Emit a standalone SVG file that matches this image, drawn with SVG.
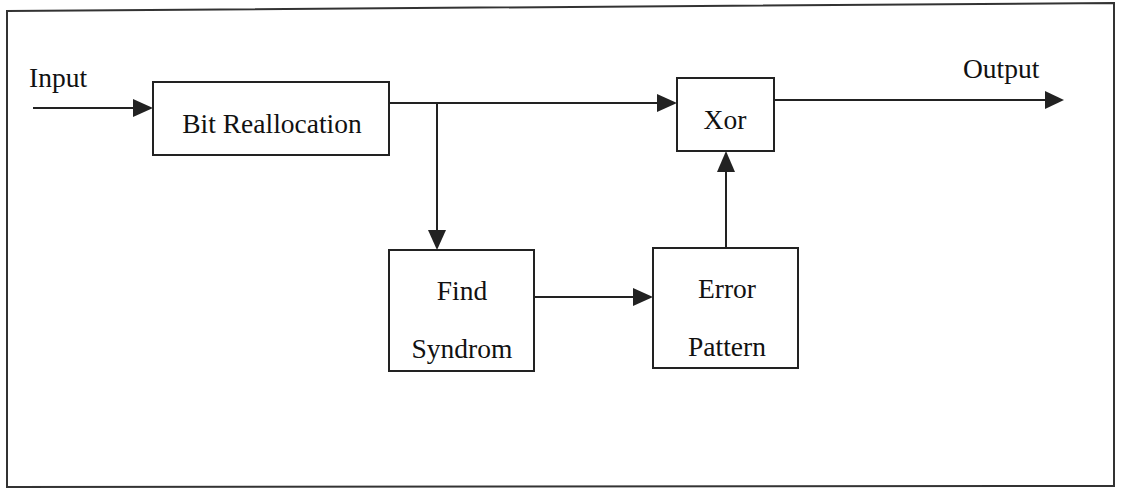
<svg xmlns="http://www.w3.org/2000/svg" width="1121" height="492" viewBox="0 0 1121 492">
<style>
.box{fill:#fff;stroke:#222;stroke-width:2}
.ln{fill:none;stroke:#222;stroke-width:2}
.ah{fill:#222;stroke:none}
text{font-family:"Liberation Serif","Times New Roman",serif;font-size:27.5px;fill:#111}
.c{text-anchor:middle}
</style>
<rect width="1121" height="492" fill="#fff"/>
<path d="M7,11 L1114,3 L1114,486 L7,487 Z" fill="none" stroke="#333" stroke-width="2"/>
<g id="connectors">
<line class="ln" x1="33" y1="108" x2="140" y2="108"/>
<polygon class="ah" points="153,108 133,99 133,117"/>
<line class="ln" x1="389" y1="103" x2="664" y2="103"/>
<polygon class="ah" points="677,103 657,94 657,112"/>
<line class="ln" x1="437" y1="103" x2="437" y2="238"/>
<polygon class="ah" points="437,250 428,230 446,230"/>
<line class="ln" x1="534" y1="297" x2="640" y2="297"/>
<polygon class="ah" points="653,297 633,288 633,306"/>
<line class="ln" x1="726" y1="248" x2="726" y2="164"/>
<polygon class="ah" points="726,151 717,172 735,172"/>
<line class="ln" x1="774" y1="100" x2="1050" y2="100"/>
<polygon class="ah" points="1064,100 1045,91 1045,109"/>
</g>
<g id="label-input"><text x="29" y="87">Input</text></g>
<g id="label-output"><text x="963" y="78">Output</text></g>
<g id="node-bit-reallocation">
<rect class="box" x="153" y="82" width="236" height="73"/>
<text class="c" x="272" y="133">Bit Reallocation</text>
</g>
<g id="node-xor">
<rect class="box" x="677" y="78" width="97" height="73"/>
<text class="c" x="725" y="129">Xor</text>
</g>
<g id="node-find-syndrom">
<rect class="box" x="389" y="250" width="145" height="121"/>
<text class="c" x="462" y="300">Find</text>
<text class="c" x="462" y="358">Syndrom</text>
</g>
<g id="node-error-pattern">
<rect class="box" x="653" y="248" width="145" height="120"/>
<text class="c" x="727" y="298">Error</text>
<text class="c" x="727" y="356">Pattern</text>
</g>
</svg>
